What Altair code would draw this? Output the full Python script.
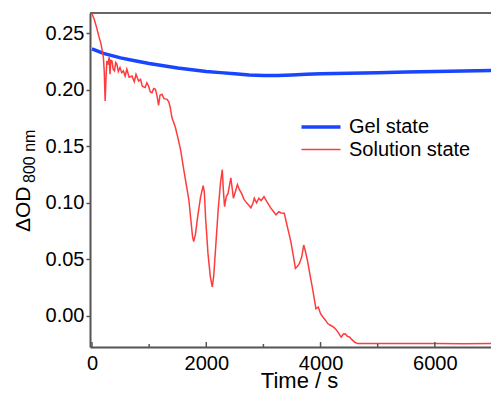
import altair as alt
import pandas as pd

# ---- data ----
gel_t = [0, 100, 200, 350, 500, 750, 1000, 1250, 1500, 1750, 2000, 2250, 2500, 2750,
         3000, 3250, 3500, 3750, 4000, 4500, 5000, 5500, 6000, 6500, 7000, 7125]
gel_v = [0.236, 0.234, 0.232, 0.230, 0.228, 0.2255, 0.2230, 0.2210, 0.2190, 0.2175,
         0.2160, 0.2150, 0.2140, 0.2130, 0.2125, 0.2125, 0.2130, 0.2135, 0.2140,
         0.2145, 0.2150, 0.2155, 0.2160, 0.2165, 0.2170, 0.2175]

sol_t = [0, 40, 80, 120, 160, 200, 215, 230, 245, 260, 280, 300, 315, 330, 350, 370,
         393, 415, 435, 460, 490, 520, 550, 580, 610, 650, 700, 740, 770, 815, 850,
         880, 930, 960, 990, 1020, 1050, 1080, 1110, 1140, 1165, 1190, 1225, 1260,
         1315, 1345, 1370, 1400, 1430, 1460, 1500, 1550, 1600, 1635, 1665, 1695,
         1730, 1760, 1780, 1810, 1850, 1900, 1945, 1965, 1990, 2030, 2070, 2105,
         2130, 2170, 2210, 2250, 2280, 2300, 2320, 2350, 2380, 2430, 2475, 2510,
         2545, 2580, 2620, 2660, 2690, 2740, 2780, 2820, 2840, 2880, 2920, 2960,
         3010, 3060, 3130, 3180, 3220, 3270, 3310, 3365, 3400, 3425, 3480, 3540,
         3560, 3600, 3630, 3670, 3705, 3740, 3775, 3820, 3865, 3900, 3920, 3960,
         4000, 4040, 4090, 4130, 4180, 4230, 4270, 4305, 4360, 4400, 4430, 4470,
         4510, 4550, 4600, 4650, 5000, 5500, 6000, 6500, 7000, 7125]
sol_v = [0.267, 0.262, 0.255, 0.247, 0.240, 0.228, 0.215, 0.190, 0.210, 0.2254,
         0.222, 0.2287, 0.2136, 0.226, 0.2254, 0.218, 0.2165, 0.224, 0.2225, 0.216,
         0.2195, 0.215, 0.2165, 0.212, 0.218, 0.211, 0.212, 0.207, 0.2136, 0.2076,
         0.209, 0.203, 0.2018, 0.206, 0.2032, 0.198, 0.1973, 0.201, 0.2003, 0.194,
         0.186, 0.195, 0.1958, 0.192, 0.1914, 0.189, 0.184, 0.175, 0.171, 0.1665,
         0.158, 0.147, 0.131, 0.1204, 0.1115, 0.1026, 0.085, 0.070, 0.0656, 0.072,
         0.088, 0.105, 0.115, 0.110, 0.085, 0.055, 0.035, 0.0256, 0.035, 0.065,
         0.095, 0.118, 0.1292, 0.110, 0.0966, 0.1055, 0.108, 0.122, 0.104, 0.110,
         0.116, 0.1115, 0.108, 0.103, 0.101, 0.098, 0.0955, 0.100, 0.104, 0.100,
         0.104, 0.102, 0.1055, 0.101, 0.0952, 0.092, 0.0893, 0.092, 0.091, 0.0908,
         0.083, 0.0775, 0.0656, 0.0482, 0.0419, 0.044, 0.0463, 0.052, 0.0626, 0.056,
         0.0478, 0.035, 0.0227, 0.012, 0.0064, 0.0078, 0.002, -0.001, -0.004, -0.007,
         -0.0085, -0.010, -0.012, -0.0143, -0.0188, -0.016, -0.0158, -0.018, -0.0188,
         -0.021, -0.0233, -0.0245, -0.0243, -0.0245, -0.0244, -0.0246, -0.0244, -0.0245]

series_names = ["Gel state", "Solution state"]
series_colors = ["#1a45ff", "#ff3c3c"]
major_ticks = [0, 2000, 4000, 6000]
minor_ticks = [1000, 3000, 5000]
y_ticks = [0.00, 0.05, 0.10, 0.15, 0.20, 0.25]

df = pd.concat([
    pd.DataFrame({"t": gel_t, "v": gel_v, "series": series_names[0], "order": range(len(gel_t))}),
    pd.DataFrame({"t": sol_t, "v": sol_v, "series": series_names[1], "order": range(len(sol_t))}),
])

W, H = 401, 334
FONT = "Liberation Sans"
xs = alt.Scale(domain=[-35, 6983], nice=False, zero=False)
ys = alt.Scale(domain=[-0.0275, 0.2677], nice=False, zero=False)

lines = alt.Chart(df).mark_line(clip=True).encode(
    x=alt.X("t:Q", scale=xs,
            axis=alt.Axis(values=major_ticks, format="d", ticks=False, labelPadding=6,
                          grid=False, title="Time / s", titleX=209, titleY=40,
                          titleBaseline="alphabetic", titleFontSize=22,
                          titleFontWeight="normal")),
    y=alt.Y("v:Q", scale=ys,
            axis=alt.Axis(values=y_ticks, format=".2f", tickSize=4, labelPadding=2,
                          grid=False, title=None)),
    color=alt.Color("series:N", scale=alt.Scale(domain=series_names, range=series_colors),
                    legend=alt.Legend(title=None, orient="none", legendX=219.5, legendY=102.5,
                                      symbolType="M-2,0H2", symbolSize=380,
                                      symbolStrokeWidth=2.5, labelFontSize=20,
                                      labelOffset=16.5, rowPadding=1.5, labelFont=FONT)),
    strokeWidth=alt.StrokeWidth("series:N",
                                scale=alt.Scale(domain=series_names, range=[3.5, 1.5]),
                                legend=None),
    order="order:Q",
)

major_df = pd.DataFrame({"t": major_ticks})
minor_df = pd.DataFrame({"t": minor_ticks})
major = alt.Chart(major_df).mark_rule(color="#555555", strokeWidth=1.5).encode(
    x=alt.X("t:Q", scale=xs), y=alt.value(H), y2=alt.value(H - 5))
minor = alt.Chart(minor_df).mark_rule(color="#555555", strokeWidth=1.5).encode(
    x=alt.X("t:Q", scale=xs), y=alt.value(H), y2=alt.value(H - 3))
top = alt.Chart(major_df).mark_rule(color="#666666", strokeWidth=2).encode(
    x=alt.value(0), x2=alt.value(W), y=alt.value(0))

ylab = pd.DataFrame({"a": ["ΔOD"], "b": ["800 nm"]})
ytitle = alt.Chart(ylab).mark_text(angle=270, align="left", baseline="alphabetic",
                                   fontSize=21, font=FONT, color="black").encode(
    text="a:N", x=alt.value(-60), y=alt.value(219))
ysub = alt.Chart(ylab).mark_text(angle=270, align="left", baseline="alphabetic",
                                 fontSize=16, font=FONT, color="black").encode(
    text="b:N", x=alt.value(-55), y=alt.value(170))

chart = alt.layer(lines, major, minor, top, ytitle, ysub).properties(
    width=W, height=H,
    autosize=alt.AutoSizeParams(type="none"),
    padding={"left": 82, "top": 5, "right": 0, "bottom": 45},
).configure_view(stroke="transparent").configure_axis(
    labelFont=FONT, titleFont=FONT, labelFontSize=20, labelColor="black",
    titleColor="black", domainColor="#555555", domainWidth=2, tickColor="#555555",
    tickWidth=1.5,
).configure_legend(labelFont=FONT)

chart.save("out.html", embed_options={"renderer": "svg", "actions": False})
